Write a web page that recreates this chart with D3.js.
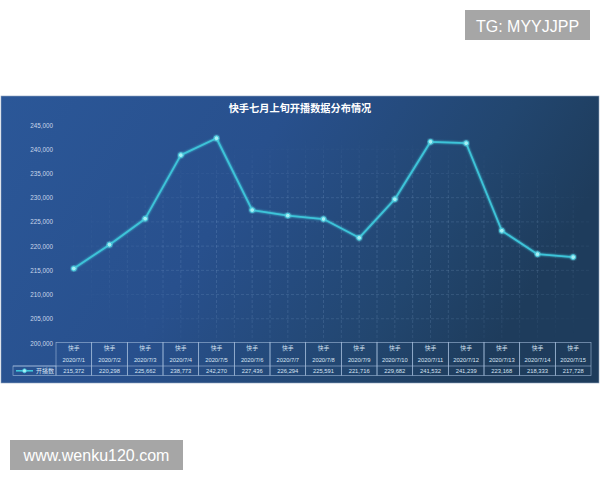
<!DOCTYPE html>
<html>
<head>
<meta charset="utf-8">
<script src="https://cdn.jsdelivr.net/npm/d3@7"></script>
<style>
  body { margin: 0; background: #fff; }
  svg { display: block; font-family: "Noto Sans CJK SC", "DejaVu Sans", sans-serif; }
</style>
</head>
<body>
<svg id="chart"></svg>
<script>
const dates = ["2020/7/1", "2020/7/2", "2020/7/3", "2020/7/4", "2020/7/5", "2020/7/6", "2020/7/7",
  "2020/7/8", "2020/7/9", "2020/7/10", "2020/7/11", "2020/7/12", "2020/7/13", "2020/7/14", "2020/7/15"];
const platform = "快手";
const values = [215372, 220298, 225662, 238773, 242270, 227436, 226294, 225591, 221716, 229682,
  241532, 241239, 223168, 218333, 217728];
const yTicks = [200000, 205000, 210000, 215000, 220000, 225000, 230000, 235000, 240000, 245000];
const seriesName = "开播数";
const title = "快手七月上旬开播数据分布情况";

const width = 600;
const height = 480;
const panel = { x: 1, y: 96, w: 598, h: 287 };
const plotLeft = 56;
const plotRight = 591;
const plotTop = 125;
const plotBottom = 343;
const tableRows = { top: 342.5, mid: 366, bottom: 375.5 };

const svg = d3.select("#chart").attr("width", width).attr("height", height);
const defs = svg.append("defs");

const bg = defs.append("linearGradient").attr("id", "bg").attr("x1", 0).attr("x2", 1).attr("y1", 0).attr("y2", 0.3);
bg.append("stop").attr("offset", 0).attr("stop-color", "#2b5798");
bg.append("stop").attr("offset", 0.45).attr("stop-color", "#28508d");
bg.append("stop").attr("offset", 0.8).attr("stop-color", "#22466f");
bg.append("stop").attr("offset", 1).attr("stop-color", "#1e3c5c");

// fading mask for the background grid
const fade = defs.append("radialGradient").attr("id", "fade")
  .attr("cx", 0.55).attr("cy", 0.6).attr("r", 0.55);
fade.append("stop").attr("offset", 0).attr("stop-color", "#fff").attr("stop-opacity", 1);
fade.append("stop").attr("offset", 0.6).attr("stop-color", "#fff").attr("stop-opacity", 0.75);
fade.append("stop").attr("offset", 1).attr("stop-color", "#fff").attr("stop-opacity", 0);
defs.append("mask").attr("id", "gridMask")
  .append("rect").attr("x", plotLeft).attr("y", plotTop).attr("width", plotRight - plotLeft)
  .attr("height", plotBottom - plotTop).attr("fill", "url(#fade)");

const glow = defs.append("filter").attr("id", "glow").attr("x", "-20%").attr("y", "-20%").attr("width", "140%").attr("height", "140%");
glow.append("feGaussianBlur").attr("stdDeviation", 1.3).attr("result", "b");
const merge = glow.append("feMerge");
merge.append("feMergeNode").attr("in", "b");
merge.append("feMergeNode").attr("in", "SourceGraphic");

// watermark badges
svg.append("rect").attr("x", 465).attr("y", 10).attr("width", 125).attr("height", 30).attr("fill", "#a6a6a6");
svg.append("text").attr("x", 527.5).attr("y", 31.5).attr("text-anchor", "middle")
  .attr("fill", "#fff").attr("font-size", 16).attr("font-family", "Liberation Sans, Arial, sans-serif")
  .text("TG: MYYJJPP");

// chart panel
svg.append("rect").attr("x", panel.x).attr("y", panel.y).attr("width", panel.w).attr("height", panel.h)
  .attr("fill", "url(#bg)").attr("stroke", "#8fa3bf").attr("stroke-width", 0.6);

svg.append("text").attr("x", 300).attr("y", 112).attr("text-anchor", "middle")
  .attr("fill", "#fff").attr("font-size", 10.2).attr("font-weight", "bold").text(title);

const x = d3.scaleBand().domain(dates).range([plotLeft, plotRight]).padding(0);
const y = d3.scaleLinear().domain([200000, 245000]).range([plotBottom, plotTop]);
const cx = (d) => x(d) + x.bandwidth() / 2;

// faint dashed grid in the background
const grid = svg.append("g").attr("mask", "url(#gridMask)")
  .attr("stroke", "#9fc0e8").attr("stroke-opacity", 0.35).attr("stroke-width", 0.6)
  .attr("stroke-dasharray", "3,2");
grid.selectAll(".h").data(yTicks.slice(1)).join("line")
  .attr("x1", plotLeft).attr("x2", plotRight)
  .attr("y1", (d) => y(d)).attr("y2", (d) => y(d));
const vLines = dates.flatMap((d) => [x(d), cx(d)]);
grid.selectAll(".v").data(vLines).join("line")
  .attr("x1", (d) => d).attr("x2", (d) => d)
  .attr("y1", plotTop).attr("y2", plotBottom);

// y axis
const yAxis = svg.append("g").attr("transform", "translate(53,0)")
  .call(d3.axisLeft(y).tickValues(yTicks).tickFormat(d3.format(",")).tickSize(0).tickPadding(0));
yAxis.select(".domain").remove();
yAxis.selectAll("text").attr("fill", "#c9d6ea").attr("font-size", 6.3)
  .attr("font-family", "Liberation Sans, Arial, sans-serif");

// data table under the plot
const table = svg.append("g").attr("stroke", "#a9c0de").attr("stroke-opacity", 0.8).attr("stroke-width", 0.7);
table.selectAll(".cell").data(dates).join("rect")
  .attr("x", (d) => x(d)).attr("y", tableRows.top)
  .attr("width", x.bandwidth()).attr("height", tableRows.bottom - tableRows.top)
  .attr("fill", "none");
table.append("line").attr("x1", 13).attr("x2", plotRight)
  .attr("y1", tableRows.mid).attr("y2", tableRows.mid);
table.append("rect").attr("x", 13).attr("y", tableRows.mid)
  .attr("width", plotLeft - 13).attr("height", tableRows.bottom - tableRows.mid).attr("fill", "none");

const tText = svg.append("g").attr("fill", "#d6e2f2").attr("font-size", 5.8).attr("text-anchor", "middle");
tText.selectAll(".p").data(dates).join("text")
  .attr("x", cx).attr("y", 349.8).text(platform);
tText.selectAll(".d").data(dates).join("text")
  .attr("x", cx).attr("y", 362.3).attr("font-family", "Liberation Sans, Arial, sans-serif").text((d) => d);
tText.selectAll(".v").data(values).join("text")
  .attr("x", (d, i) => cx(dates[i])).attr("y", 372.6)
  .attr("font-family", "Liberation Sans, Arial, sans-serif").text(d3.format(","));

// legend key
svg.append("line").attr("x1", 16).attr("x2", 33).attr("y1", 370.8).attr("y2", 370.8)
  .attr("stroke", "#3fc6da").attr("stroke-width", 1.6);
svg.append("circle").attr("cx", 24.5).attr("cy", 370.8).attr("r", 2)
  .attr("fill", "#a6f0f6").attr("stroke", "#3fc6da").attr("stroke-width", 0.8);
svg.append("text").attr("x", 36).attr("y", 373).attr("fill", "#d6e2f2").attr("font-size", 6)
  .text(seriesName);

// series line
const line = d3.line().x((d, i) => cx(dates[i])).y((d) => y(d));
svg.append("path").datum(values).attr("d", line)
  .attr("fill", "none").attr("stroke", "#3ec4d9").attr("stroke-width", 1.8)
  .attr("stroke-linejoin", "round").attr("filter", "url(#glow)");
svg.append("g").selectAll("circle").data(values).join("circle")
  .attr("cx", (d, i) => cx(dates[i])).attr("cy", (d) => y(d)).attr("r", 2.4)
  .attr("fill", "#a6f0f6").attr("stroke", "#3ec4d9").attr("stroke-width", 1)
  .attr("filter", "url(#glow)");

svg.append("rect").attr("x", 10).attr("y", 440).attr("width", 173).attr("height", 30).attr("fill", "#a6a6a6");
svg.append("text").attr("x", 96.5).attr("y", 461).attr("text-anchor", "middle")
  .attr("fill", "#fff").attr("font-size", 16).attr("font-family", "Liberation Sans, Arial, sans-serif")
  .text("www.wenku120.com");
</script>
</body>
</html>
